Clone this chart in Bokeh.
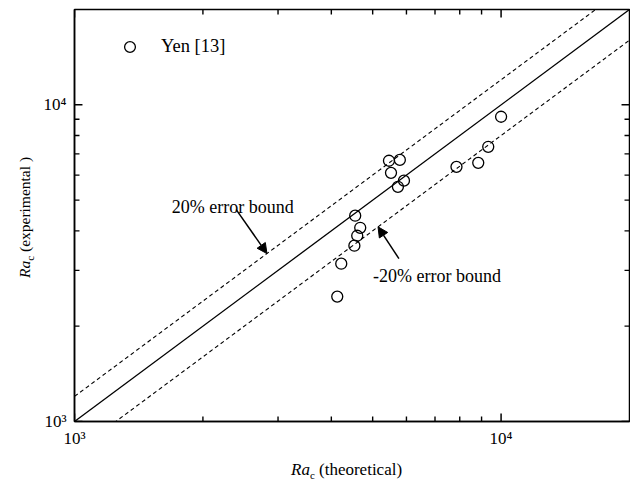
import math
from bokeh.plotting import figure
from bokeh.models import (FixedTicker, Label, Arrow, NormalHead,
                          Legend, LegendItem, Range1d, Div)
from bokeh.layouts import row, column
from bokeh.embed import file_html
from bokeh.resources import INLINE

# ---- data ----
ra_theoretical = [5460, 5790, 5520, 5920, 5730, 4550, 4675, 4600, 4530,
                  4220, 4130, 7860, 8840, 9330, 10000]
ra_experimental = [6660, 6700, 6100, 5760, 5510, 4465, 4090, 3860, 3590,
                   3150, 2480, 6370, 6560, 7370, 9170]
series_name = "Yen [13]"

line_x = [1000, 20000]
ratio_exact = 1.0
ratio_upper = 1.2
ratio_lower = 0.8

axis_min = 1000
axis_max = 20000
major_ticks = [1000, 10000]
minor_ticks = [2000, 3000, 4000, 5000, 6000, 7000, 8000, 9000]
tick_labels = {1000: "10\u00b3", 10000: "10\u2074"}

FONT = "Liberation Serif"

FIG_W, FIG_H = 590, 450
B_LEFT, B_RIGHT, B_TOP, B_BOTTOM = 32, 1, 9, 29

p = figure(width=FIG_W, height=FIG_H, x_axis_type="log", y_axis_type="log",
           x_range=Range1d(axis_min, axis_max), y_range=Range1d(axis_min, axis_max),
           output_backend="svg", toolbar_location=None,
           min_border_left=B_LEFT, min_border_right=B_RIGHT, min_border_top=B_TOP,
           min_border_bottom=B_BOTTOM, margin=0)
p.grid.visible = False
p.background_fill_alpha = 0
p.border_fill_alpha = 0
p.outline_line_color = "black"
p.outline_line_width = 1.5

bottom_axis = p.below[0]
left_axis = p.left[0]
for ax in [bottom_axis, left_axis]:
    ax.ticker = FixedTicker(ticks=major_ticks, minor_ticks=minor_ticks)
    ax.major_tick_in = 0
    ax.major_tick_out = 0
    ax.minor_tick_in = 0
    ax.minor_tick_out = 0
    ax.axis_line_width = 1.5
    ax.axis_line_color = "black"
    ax.major_label_text_font = FONT
    ax.major_label_text_color = "black"
    ax.major_label_overrides = tick_labels
    ax.major_label_text_font_size = "17px"
bottom_axis.major_label_standoff = 7
left_axis.major_label_standoff = 8

# inward tick marks on all four sides, as segments of a fixed pixel length
decades = math.log10(axis_max / axis_min)
ppd_x = (FIG_W - B_LEFT - B_RIGHT) / decades   # pixels per decade
ppd_y = (FIG_H - B_TOP - B_BOTTOM) / decades


def ticks(values, length, width, color):
    fx = 10 ** (length / ppd_x)
    fy = 10 ** (length / ppd_y)
    n = len(values)
    p.segment(x0=values, y0=[axis_min] * n, x1=values, y1=[axis_min * fy] * n,
              line_color=color, line_width=width)
    p.segment(x0=values, y0=[axis_max] * n, x1=values, y1=[axis_max / fy] * n,
              line_color=color, line_width=width)
    p.segment(x0=[axis_min] * n, y0=values, x1=[axis_min * fx] * n, y1=values,
              line_color=color, line_width=width)
    p.segment(x0=[axis_max] * n, y0=values, x1=[axis_max / fx] * n, y1=values,
              line_color=color, line_width=width)


ticks(major_ticks, 8, 1.5, "black")
ticks(minor_ticks, 5, 1.4, "black")

# reference lines
p.line(line_x, [v * ratio_exact for v in line_x], line_color="black", line_width=1.3)
p.line(line_x, [v * ratio_upper for v in line_x], line_color="black", line_width=1.1,
       line_dash="4 3")
p.line(line_x, [v * ratio_lower for v in line_x], line_color="black", line_width=1.1,
       line_dash="4 3")

r = p.scatter(ra_theoretical, ra_experimental, size=11, marker="circle",
              fill_color=None, line_color="black", line_width=1.3)

legend = Legend(items=[LegendItem(label=series_name, renderers=[r])],
                location=(32, 351), label_standoff=18, margin=0, padding=10,
                glyph_width=27, glyph_height=27,
                border_line_alpha=0, background_fill_alpha=0,
                label_text_font=FONT, label_text_font_size="18.5px",
                label_text_color="black")
p.add_layout(legend)

p.add_layout(Label(x=1690, y=4770, text="20% error bound", text_font=FONT,
                   text_font_size="18px", text_color="black",
                   text_baseline="alphabetic", text_align="left"))
p.add_layout(Label(x=5012, y=2888, text="-20% error bound", text_font=FONT,
                   text_font_size="18px", text_color="black",
                   text_baseline="alphabetic", text_align="left"))
p.add_layout(Arrow(end=NormalHead(size=10, fill_color="black", line_color="black"),
                   x_start=2394, y_start=4665, x_end=2826, y_end=3391,
                   line_width=1.5, line_color="black"))
p.add_layout(Arrow(end=NormalHead(size=10, fill_color="black", line_color="black"),
                   x_start=5761, y_start=3268, x_end=5147, y_end=4118,
                   line_width=1.5, line_color="black"))

SUB = '<span style="font-size:11px;position:relative;top:4px;">c</span>'
x_title_html = (
    '<div style="position:relative;width:590px;height:31px;'
    "font-family:'Liberation Serif';color:black;\">"
    '<span style="position:absolute;left:251px;top:10px;font-size:17px;'
    'line-height:20px;white-space:nowrap;">'
    '<i>Ra</i>' + SUB + ' (theoretical)</span></div>'
)
y_title_html = (
    '<div style="position:relative;width:40px;height:481px;'
    "font-family:'Liberation Serif';color:black;\">"
    '<span style="position:absolute;left:15px;top:278px;font-size:15.5px;'
    'line-height:20px;white-space:nowrap;transform:rotate(-90deg);'
    'transform-origin:0 0;">'
    '<i>Ra</i>' + SUB + ' (experimental )</span></div>'
)
x_title = Div(text=x_title_html, width=590, height=31, margin=0)
y_title = Div(text=y_title_html, width=40, height=481, margin=0)

layout = row(y_title, column(p, x_title, spacing=0, margin=0), spacing=0, margin=0)

open("out.html", "w").write(file_html(layout, INLINE))
